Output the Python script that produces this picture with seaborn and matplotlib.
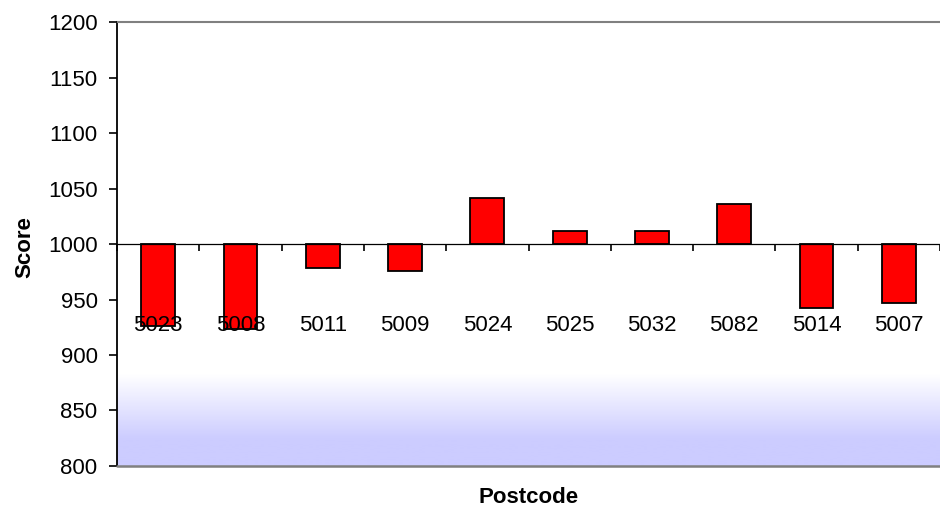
import numpy as np
import pandas as pd
import matplotlib
matplotlib.use("Agg")
import matplotlib.pyplot as plt
import seaborn as sns

postcodes = ["5023", "5008", "5011", "5009", "5024", "5025", "5032", "5082", "5014", "5007"]
scores = [926, 923, 978, 976, 1041, 1012, 1012, 1036, 942, 947]
baseline = 1000
y_ticks = [800, 850, 900, 950, 1000, 1050, 1100, 1150, 1200]

sns.set_theme(style="white")
plt.rcParams["font.family"] = ["Liberation Sans", "DejaVu Sans"]

df = pd.DataFrame({"Postcode": postcodes, "Score": scores})
df["delta"] = df["Score"] - baseline

fig = plt.figure(figsize=(9.4, 5.11), dpi=100)
ax = fig.add_axes([117 / 940, 1 - 466 / 511, 823 / 940, 444 / 511])

# background gradient near the bottom
n = 200
vals = np.linspace(800, 882, n)
t = np.clip((882 - vals) / (882 - 824), 0, 1)
white = np.array([1.0, 1.0, 1.0])
lav = np.array([204, 204, 255]) / 255
grad = (white[None, :] * (1 - t)[:, None] + lav[None, :] * t[:, None])[:, None, :]
ax.imshow(grad, extent=[-0.5, 9.5, 800, 882], origin="lower", aspect="auto", zorder=0)

sns.barplot(data=df, x="Postcode", y="delta", bottom=baseline, color="#ff0000",
            saturation=1, edgecolor="black", linewidth=1.3, width=0.41, ax=ax, zorder=2)
ax.set_axisbelow(False)

ax.set_xlim(-0.5, 9.5)
ax.set_ylim(800, 1200)
ax.set_yticks(y_ticks)
ax.set_yticklabels([str(v) for v in y_ticks])

centers = np.arange(len(postcodes))
ax.set_xticks(centers)
ax.set_xticklabels(postcodes)
ax.set_xticks(np.arange(len(postcodes) + 1) - 0.5, minor=True)
ax.tick_params(axis="x", which="major", bottom=True, length=0, pad=51, labelsize=16, colors="black")
ax.tick_params(axis="x", which="minor", bottom=True, length=5, width=1.2, direction="out", color="black")
ax.tick_params(axis="y", which="major", left=True, length=6, width=1.2, pad=8,
               labelsize=16, colors="black", direction="out")

ax.spines["bottom"].set_position(("data", baseline))
ax.spines["bottom"].set_color("black")
ax.spines["bottom"].set_linewidth(0.9)
ax.spines["left"].set_color("black")
ax.spines["left"].set_linewidth(1.3)
ax.spines["top"].set_color("#808080")
ax.spines["top"].set_linewidth(1.5)
ax.spines["right"].set_visible(False)
ax.axhline(800, color="#808080", linewidth=1.8, clip_on=False, zorder=5)

ax.set_ylabel("Score", fontsize=16, fontweight="bold", color="black")
ax.set_xlabel("Postcode", fontsize=16, fontweight="bold", color="black")
ax.yaxis.set_label_coords(-0.099, 0.492)
ax.xaxis.set_label_coords(0.5, -0.047)

fig.savefig("out.png", dpi=100)
